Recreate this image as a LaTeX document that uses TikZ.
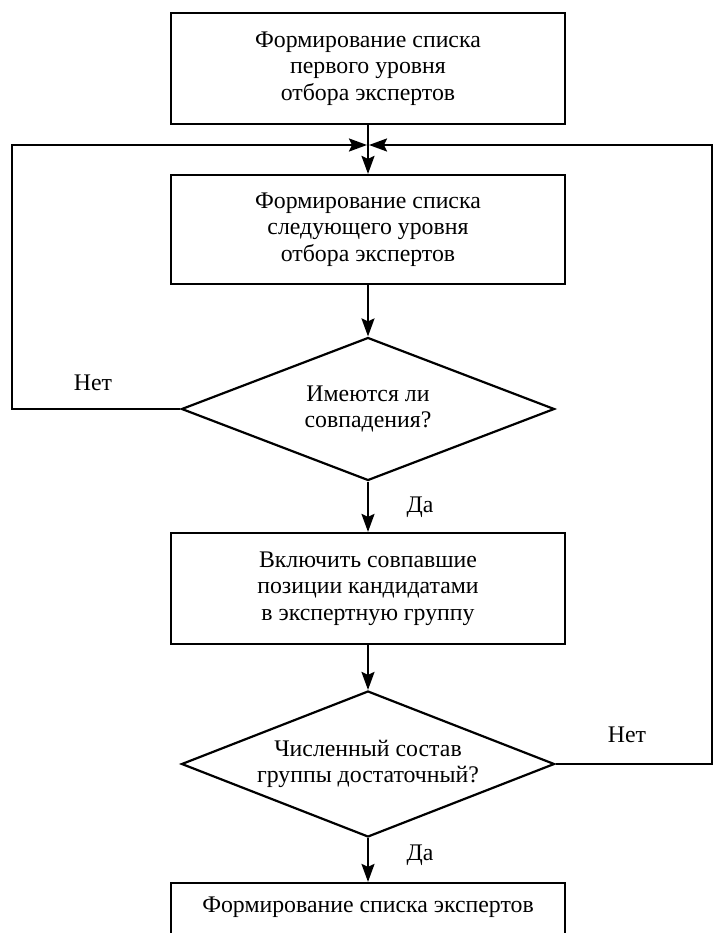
\documentclass[tikz,border=0pt]{standalone}
\usepackage{fontspec}
\setmainfont{Liberation Serif}
\usetikzlibrary{shapes.geometric,arrows.meta}
\tikzset{
  box/.style={draw,line width=2.2pt,minimum width=394pt,inner sep=0pt,align=center,font=\fontsize{23.8}{26.5}\selectfont},
  dia/.style={draw,diamond,line width=2.2pt,aspect=2.6,inner sep=0pt,minimum width=373pt,align=center,font=\fontsize{23.8}{26.5}\selectfont},
  lbl/.style={font=\fontsize{23.8}{26.5}\selectfont,inner sep=0pt},
  arr/.style={line width=2.2pt,-{Stealth[length=18pt,width=13pt,inset=3pt]}}
}
\begin{document}
\begin{tikzpicture}[x=1pt,y=-1pt]
\clip (0,0) rectangle (713,933);
\fill[white] (0,0) rectangle (713,933);
\node[box,minimum height=111pt] (b1) at (368,68.5) {Формирование списка\\первого уровня\\отбора экспертов};
\node[box,minimum height=109pt] (b2) at (368,229.5) {Формирование списка\\следующего уровня\\отбора экспертов};
\node[dia,minimum height=143pt] (d1) at (368,409) {Имеются ли\\совпадения?};
\node[box,minimum height=111pt] (b3) at (368,588.5) {Включить совпавшие\\позиции кандидатами\\в экспертную группу};
\node[dia,minimum height=146pt] (d2) at (368,764) {Численный состав\\группы достаточный?};
\node[box,minimum height=110pt,text height=0pt] (b4) at (368,938) {};
\node[lbl] (t4) at (368,907) {Формирование списка экспертов};
\coordinate (j) at (368,145);
\coordinate (lc) at (12,145);
\coordinate (rc) at (712,145);
\draw[arr] (b1) -- (b2);
\draw[arr] (b2) -- (d1);
\draw[arr] (d1) -- (b3);
\draw[arr] (b3) -- (d2);
\draw[arr] (d2) -- (b4);
\draw[arr,shorten >=1pt] (d1.west) -| (lc) -- (j);
\draw[arr,shorten >=1pt] (d2.east) -| (rc) -- (j);
\node[lbl] (n1) at (93,383) {Нет};
\node[lbl] (y1) at (420,507) {Да};
\node[lbl] (n2) at (627,735) {Нет};
\node[lbl] (y2) at (420,855) {Да};
\end{tikzpicture}
\end{document}
